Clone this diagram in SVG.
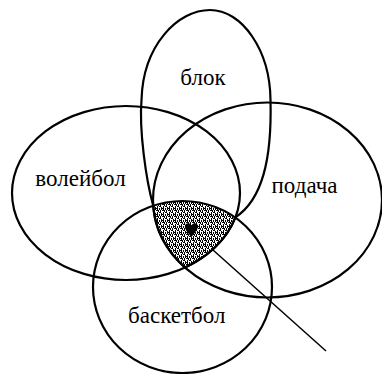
<svg xmlns="http://www.w3.org/2000/svg" width="382" height="374" viewBox="0 0 382 374">
  <style>
    .outline { fill: none; stroke: #000; stroke-width: 2.2; }
    .label { font-family: "Liberation Serif", "Times New Roman", serif; font-size: 23px; fill: #000; text-anchor: middle; }
    .pointer { stroke: #000; stroke-width: 1.5; fill: none; }
  </style>
  <defs>
    <pattern id="stipple" width="6" height="6" patternUnits="userSpaceOnUse">
      <rect width="6" height="6" fill="#fff"/>
      <g fill="#000" shape-rendering="crispEdges">
        <rect x="0" y="0" width="3" height="1"/>
        <rect x="4" y="0" width="1" height="2"/>
        <rect x="1" y="2" width="1" height="2"/>
        <rect x="3" y="2" width="2" height="1"/>
        <rect x="0" y="4" width="2" height="1"/>
        <rect x="3" y="4" width="1" height="2"/>
        <rect x="5" y="3" width="1" height="2"/>
        <rect x="1" y="5" width="1" height="1"/>
        <rect x="2" y="1" width="1" height="1"/>
        <rect x="5" y="5" width="1" height="1"/>
      </g>
    </pattern>
    <clipPath id="clipL"><ellipse cx="126" cy="193" rx="114" ry="87"/></clipPath>
    <clipPath id="clipR"><ellipse cx="267.5" cy="200" rx="114.5" ry="97.5"/></clipPath>
  </defs>
  <rect width="382" height="374" fill="#fff"/>

  <g id="shaded-intersection">
    <g clip-path="url(#clipL)">
      <g clip-path="url(#clipR)">
        <ellipse cx="182.5" cy="287" rx="89.5" ry="86" fill="url(#stipple)"/>
      </g>
    </g>
  </g>

  <g id="node-blok">
    <path class="outline" d="M153.2 205.6 C146 180 139 130 141.5 100 C143 45 178 10 210 10 C242 10 270 50 270.5 100 C272 160 262 200 235.3 217.4 A114 87 0 0 1 185 267.4 A114.5 97.5 0 0 1 153.2 205.6 Z"/>
    <text class="label" x="203" y="85">блок</text>
  </g>

  <g id="node-voleibol">
    <ellipse class="outline" cx="126" cy="193" rx="114" ry="87"/>
    <text class="label" x="80.5" y="186">волейбол</text>
  </g>

  <g id="node-podacha">
    <ellipse class="outline" cx="267.5" cy="200" rx="114.5" ry="97.5"/>
    <text class="label" x="304.5" y="193">подача</text>
  </g>

  <g id="node-basketbol">
    <ellipse class="outline" cx="182.5" cy="287" rx="89.5" ry="86"/>
    <text class="label" x="176.7" y="323">баскетбол</text>
  </g>

  <g id="connectors">
    <line class="pointer" x1="213" y1="250" x2="326" y2="351"/>
    <path fill="#000" d="M191.5 237 C188 233 184 229 185 225.5 C186 222.5 190 222.5 191.5 225.5 C193 222.5 197.5 222.5 198 226 C198 229.5 194.5 233 191.5 237 Z"/>
  </g>
</svg>
